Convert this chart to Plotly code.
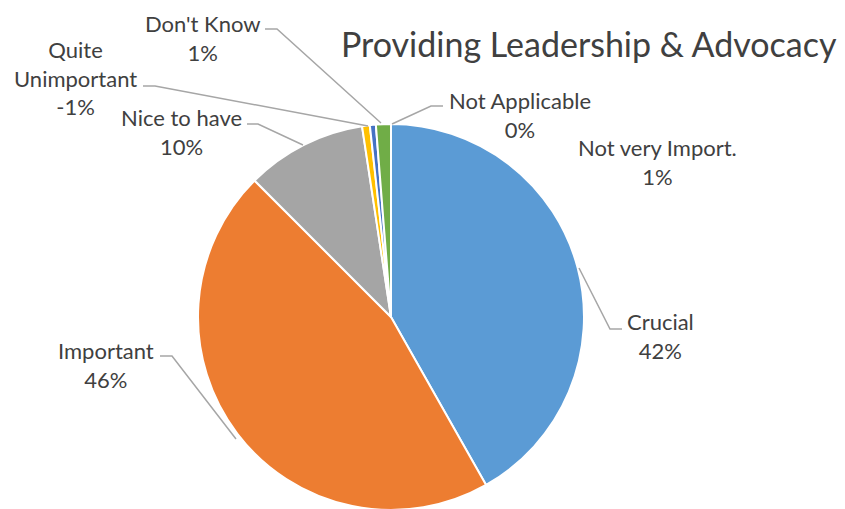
import plotly.graph_objects as go

# answers, in clockwise order from 12 o'clock
labels = ['Crucial', 'Important', 'Nice to have', 'Quite Unimportant',
          'Not very Import.', "Don't Know", 'Not Applicable']
values = [41.8, 45.7, 10.1, 0.65, 0.5, 1.25, 0.0]
shown_pct = ['42%', '46%', '10%', '-1%', '1%', '1%', '0%']
label_text = ['Crucial', 'Important', 'Nice to have', 'Quite<br>Unimportant',
              'Not very Import.', "Don't Know", 'Not Applicable']

colors = ['#5B9BD5', '#ED7D31', '#A5A5A5', '#FFC000', '#4472C4', '#70AD47', '#264478']
text_color = '#404040'
line_color = '#A6A6A6'

W, H = 845, 509
OFF = 8  # page body margin in the browser

def px(x, y):
    return (x - OFF) / W, 1 - (y - OFF) / H

fig = go.Figure()
fig.add_trace(go.Pie(labels=labels, values=values, sort=False, direction='clockwise',
                     rotation=0, textinfo='none', showlegend=False,
                     marker=dict(colors=colors, line=dict(color='white', width=2)),
                     domain=dict(x=[190 / W, 576 / W], y=[7 / H, 393 / H])))

# label centres (pixels) and leader line paths (pixels), one per slice
label_pos = [(660, 336), (106, 365), (181, 132), (75, 78), (657, 162), (203, 38), (520, 115)]
leaders = [
    [(622, 329), (610, 329), (579, 268)],
    [(160, 356), (172, 356), (236, 439)],
    [(247, 124), (258, 124), (303, 145)],
    [(143, 86), (155, 86), (368, 126)],
    None,
    [(265, 29), (277, 29), (381, 123)],
    [(443, 106), (431, 106), (392, 124)],
]

for lab, pct, (x, y), path in zip(label_text, shown_pct, label_pos, leaders):
    ax, ay = px(x, y)
    fig.add_annotation(x=ax, y=ay, xref='paper', yref='paper', showarrow=False,
                       xanchor='center', yanchor='middle',
                       text=lab + '<br>' + pct, align='center',
                       font=dict(family='Lato', size=22, color=text_color))
    if path:
        d = 'M ' + ' L '.join('%f %f' % px(*p) for p in path)
        fig.add_shape(type='path', path=d, xref='paper', yref='paper',
                      line=dict(color=line_color, width=1.5))

tx, ty = px(589, 43)
fig.add_annotation(x=tx, y=ty, xref='paper', yref='paper', showarrow=False,
                   xanchor='center', yanchor='middle',
                   text='Providing Leadership &amp; Advocacy',
                   font=dict(family='Lato', size=34, color=text_color))

fig.update_layout(width=W, height=H, margin=dict(l=0, r=0, t=0, b=0),
                  paper_bgcolor='white', plot_bgcolor='white')

fig.write_html('out.html')
